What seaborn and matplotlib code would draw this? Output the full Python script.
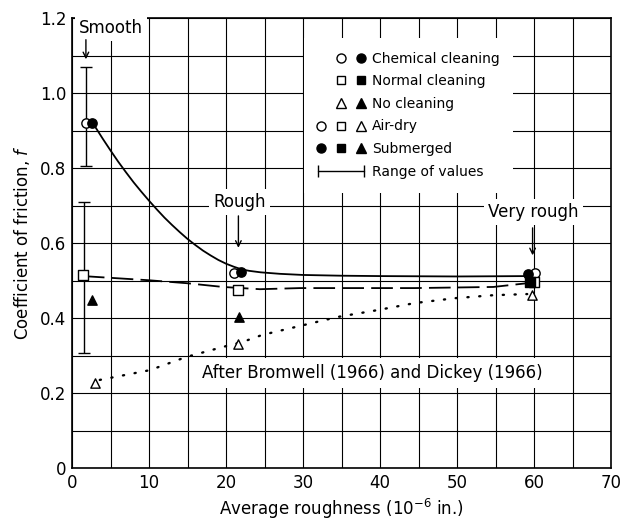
import matplotlib.pyplot as plt
import seaborn as sns
from matplotlib.lines import Line2D
from matplotlib.legend_handler import HandlerTuple, HandlerLine2D
from matplotlib.ticker import MultipleLocator

# Curves
curva_quimica_x = [2.7, 4, 5, 6, 7, 8, 9, 10, 11, 12, 13, 14, 15, 16, 17, 18, 19, 20,
                   21, 22, 23, 24.5, 27, 30, 35, 40, 50, 59.1]
curva_quimica_y = [0.92, 0.878, 0.847, 0.817, 0.789, 0.762, 0.737, 0.713, 0.69, 0.668,
                   0.648, 0.629, 0.611, 0.595, 0.58, 0.567, 0.555, 0.545, 0.537, 0.53,
                   0.526, 0.522, 0.518, 0.515, 0.513, 0.512, 0.511, 0.512]

curva_normal_x = [1.4, 9.9, 14.9, 19.6, 24.4, 29.6, 44.5, 54.7, 59.1]
curva_normal_y = [0.512, 0.501, 0.493, 0.483, 0.477, 0.48, 0.48, 0.483, 0.493]

curva_sin_x = [3.6, 10.1, 14.8, 19.6, 22.1, 24.7, 29.6, 34.5, 39.6, 44.5, 49.7, 54.7, 59.1]
curva_sin_y = [0.235, 0.261, 0.296, 0.323, 0.336, 0.355, 0.379, 0.403, 0.421, 0.44, 0.453, 0.461, 0.464]

# Measured points
quimica_seco_x = [1.8, 21.0, 60.1]
quimica_seco_y = [0.92, 0.52, 0.52]
quimica_sumergido_x = [2.6, 21.9, 59.2]
quimica_sumergido_y = [0.92, 0.523, 0.517]
normal_seco_x = [1.4, 21.5, 60.0]
normal_seco_y = [0.515, 0.475, 0.496]
normal_sumergido_x = [59.4]
normal_sumergido_y = [0.496]
sin_seco_x = [3.0, 21.6, 59.7]
sin_seco_y = [0.227, 0.33, 0.461]
sin_sumergido_x = [2.6, 21.7]
sin_sumergido_y = [0.448, 0.403]

# Range of values (error bars)
rango_x = [1.8, 1.6]
rango_min = [0.805, 0.307]
rango_max = [1.069, 0.71]

sns.set_style("white")
plt.rcParams['font.family'] = ['DejaVu Sans']
plt.rcParams['text.color'] = 'black'
plt.rcParams['axes.labelcolor'] = 'black'
plt.rcParams['xtick.color'] = 'black'
plt.rcParams['ytick.color'] = 'black'

fig = plt.figure(figsize=(6.32, 5.2), dpi=100)
ax = fig.add_axes([0.114, 0.1, 0.853, 0.865])

ax.set_xlim(0, 70)
ax.set_ylim(0, 1.2)
ax.xaxis.set_major_locator(MultipleLocator(10))
ax.xaxis.set_minor_locator(MultipleLocator(5))
ax.yaxis.set_minor_locator(MultipleLocator(0.1))
ax.set_yticks([0, 0.2, 0.4, 0.6, 0.8, 1.0, 1.2])
ax.set_yticklabels(["0", "0.2", "0.4", "0.6", "0.8", "1.0", "1.2"])
ax.grid(True, which='both', color='black', linewidth=0.8)
ax.set_axisbelow(True)
ax.tick_params(which='both', length=0, labelsize=12, colors='black', pad=4)
for s in ax.spines.values():
    s.set_color('black')
    s.set_linewidth(1.2)

# Curves
sns.lineplot(x=curva_quimica_x, y=curva_quimica_y, ax=ax, color='black', linewidth=1.3,
             sort=False, zorder=2)
sns.lineplot(x=curva_normal_x, y=curva_normal_y, ax=ax, color='black', linewidth=1.3,
             sort=False, zorder=2)
ax.lines[-1].set_dashes((12, 4))
sns.lineplot(x=curva_sin_x, y=curva_sin_y, ax=ax, color='black', linewidth=1.7,
             sort=False, zorder=2)
ax.lines[-1].set_linestyle((0, (0.5, 4.5)))
ax.lines[-1].set_dash_capstyle('round')

# Error bars
ax.errorbar(rango_x, rango_min,
            yerr=[[0] * len(rango_x), [a - b for a, b in zip(rango_max, rango_min)]],
            fmt='none', ecolor='black', elinewidth=1, capsize=4, capthick=1, zorder=3)

# Points
puntos = [
    (quimica_seco_x, quimica_seco_y, 'o', 'white'),
    (quimica_sumergido_x, quimica_sumergido_y, 'o', 'black'),
    (normal_seco_x, normal_seco_y, 's', 'white'),
    (normal_sumergido_x, normal_sumergido_y, 's', 'black'),
    (sin_seco_x, sin_seco_y, '^', 'white'),
    (sin_sumergido_x, sin_sumergido_y, '^', 'black'),
]
for px, py, m, fc in puntos:
    sns.scatterplot(x=px, y=py, ax=ax, marker=m, color=fc, edgecolor='black',
                    linewidth=1, s=45, zorder=4)

# Annotations
caja = dict(boxstyle='square,pad=0.25', facecolor='white', edgecolor='none')
ax.text(5.1, 1.173, "Smooth", fontsize=12, ha='center', va='center', bbox=caja, zorder=3)
ax.annotate("", xy=(1.8, 1.083), xytext=(1.8, 1.15),
            arrowprops=dict(arrowstyle='->', color='black', lw=1))
ax.text(21.7, 0.71, "Rough", fontsize=12, ha='center', va='center', bbox=caja, zorder=3)
ax.annotate("", xy=(21.6, 0.58), xytext=(21.6, 0.68),
            arrowprops=dict(arrowstyle='->', color='black', lw=1))
ax.text(59.9, 0.683, "Very rough", fontsize=12, ha='center', va='center', bbox=caja, zorder=3)
ax.annotate("", xy=(59.8, 0.56), xytext=(59.8, 0.648),
            arrowprops=dict(arrowstyle='->', color='black', lw=1))
ax.text(39.0, 0.253, "After Bromwell (1966) and Dickey (1966)", fontsize=12,
        ha='center', va='center', bbox=dict(boxstyle='square,pad=0.35', facecolor='white',
                                            edgecolor='none'), zorder=3)

ax.set_xlabel("Average roughness (10$^{-6}$ in.)", fontsize=12, labelpad=4)
ax.set_ylabel("Coefficient of friction, $f$", fontsize=12, labelpad=6)

# Legend
blanco = Line2D([], [], linestyle='none')
oc = Line2D([], [], ls='none', marker='o', mfc='white', mec='black', ms=6.5)
fc_ = Line2D([], [], ls='none', marker='o', mfc='black', mec='black', ms=6.5)
osq = Line2D([], [], ls='none', marker='s', mfc='white', mec='black', ms=6)
fsq = Line2D([], [], ls='none', marker='s', mfc='black', mec='black', ms=6)
otr = Line2D([], [], ls='none', marker='^', mfc='white', mec='black', ms=6.5)
ftr = Line2D([], [], ls='none', marker='^', mfc='black', mec='black', ms=6.5)
rango = Line2D([], [], color='black', lw=1, marker='|', ms=9, mew=1)

handles = [(blanco, oc, fc_), (blanco, osq, fsq), (blanco, otr, ftr),
           (oc, osq, otr), (fc_, fsq, ftr), rango]
labels = ["Chemical cleaning", "Normal cleaning", "No cleaning", "Air-dry",
          "Submerged", "Range of values"]
leg = ax.legend(handles, labels,
                handler_map={tuple: HandlerTuple(ndivide=3, pad=1.0),
                             rango: HandlerLine2D(numpoints=2, marker_pad=0)},
                loc='upper left', bbox_to_anchor=(0.417, 0.972), fontsize=10,
                handlelength=3.3, handletextpad=0.6, labelspacing=0.62,
                borderpad=1.0, frameon=True, fancybox=False, facecolor='white',
                edgecolor='none', framealpha=1)
leg.set_zorder(5)
for t in leg.get_texts():
    t.set_color('black')

plt.savefig("out.png", dpi=100)
plt.close()
